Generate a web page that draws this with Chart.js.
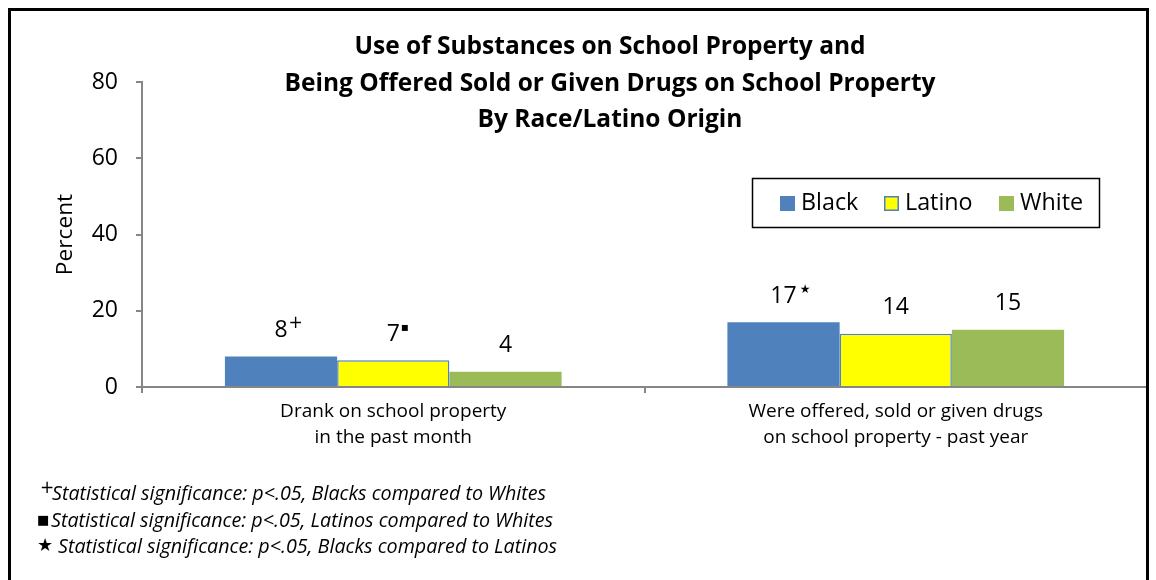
<!DOCTYPE html>
<html>
<head>
<meta charset="utf-8">
<script src="https://cdn.jsdelivr.net/npm/chart.js@4"></script>
<style>
  html, body { margin: 0; padding: 0; background: #ffffff; }
  #wrap { width: 1156px; height: 580px; position: relative; }
</style>
</head>
<body>
<div id="wrap"><canvas id="c" width="1156" height="580"></canvas></div>
<script>
// ---- Data ----
const categories = [
  ["Drank on school property", "in the past month"],
  ["Were offered, sold or given drugs", "on school property - past year"]
];
const seriesNames = ["Black", "Latino", "White"];
const blackValues = [8, 17];
const latinoValues = [7, 14];
const whiteValues = [4, 15];
const blackMarks = ["+", "\u2605"];
const latinoMarks = ["\u25AA", ""];
const whiteMarks = ["", ""];
const yTicks = [0, 20, 40, 60, 80];
const titleLines = [
  "Use of Substances on School Property and",
  "Being Offered Sold or Given Drugs on School Property",
  "By Race/Latino Origin"
];
const footnotes = [
  ["+", "Statistical significance: p<.05, Blacks compared to Whites"],
  ["\u25A0", "Statistical significance: p<.05, Latinos compared to Whites"],
  ["\u2605", "Statistical significance: p<.05, Blacks compared to Latinos"]
];

const FONT = "'Open Sans', Lato, sans-serif";
const SYM = "'DejaVu Sans', sans-serif";
const marksByDataset = [blackMarks, latinoMarks, whiteMarks];

const decorPlugin = {
  id: 'decor',
  afterDraw(chart) {
    const ctx = chart.ctx;
    ctx.save();
    // outer frame
    ctx.strokeStyle = '#000';
    ctx.lineWidth = 3;
    ctx.strokeRect(9.5, 9.5, 1138, 620);

    // title
    ctx.fillStyle = '#000';
    ctx.textAlign = 'center';
    ctx.textBaseline = 'middle';
    ctx.font = "bold 24.5px " + FONT;
    const tY = [47, 84, 120];
    titleLines.forEach((t, i) => ctx.fillText(t, 610, tY[i]));

    // data labels
    chart.data.datasets.forEach((ds, di) => {
      const meta = chart.getDatasetMeta(di);
      meta.data.forEach((el, i) => {
        const txt = String(ds.data[i]);
        ctx.font = "23px " + FONT;
        ctx.textAlign = 'center';
        ctx.textBaseline = 'middle';
        const cy = el.y - 26;
        ctx.fillText(txt, el.x, cy);
        const mk = marksByDataset[di][i];
        if (mk) {
          const w = ctx.measureText(txt).width;
          ctx.textAlign = 'left';
          if (mk === "+") { ctx.font = "17px " + SYM; ctx.fillText(mk, el.x + w / 2 + 1, cy - 7); }
          else if (mk === "\u25AA") { ctx.font = "12px " + SYM; ctx.fillText(mk, el.x + w / 2 + 1, cy - 6); }
          else { ctx.font = "12px " + SYM; ctx.fillText(mk, el.x + w / 2 + 3, cy - 6); }
        }
      });
    });

    // legend
    ctx.lineWidth = 1.5;
    ctx.strokeStyle = '#000';
    ctx.strokeRect(752.5, 178.5, 347, 49);
    const legX = [780, 884, 999];
    chart.data.datasets.forEach((ds, di) => {
      const x = legX[di];
      ctx.fillStyle = ds.backgroundColor;
      ctx.fillRect(x, 196, 15, 15);
      if (ds.borderWidth) {
        ctx.strokeStyle = ds.borderColor;
        ctx.lineWidth = 1.5;
        ctx.strokeRect(x + 0.75, 196.75, 13.5, 13.5);
      }
      ctx.fillStyle = '#000';
      ctx.font = "23.3px " + FONT;
      ctx.textAlign = 'left';
      ctx.textBaseline = 'middle';
      ctx.fillText(ds.label, x + 21, 203);
    });

    // footnotes
    const fy = [494, 521, 547];
    const fx = [[40, 52], [38, 51], [38, 58]];
    footnotes.forEach((f, i) => {
      ctx.fillStyle = '#000';
      ctx.textAlign = 'left';
      ctx.textBaseline = 'middle';
      if (i === 0) { ctx.font = "17px " + SYM; ctx.fillText(f[0], fx[i][0], fy[i] - 5); }
      else if (i === 1) { ctx.font = "13px " + SYM; ctx.fillText(f[0], fx[i][0] - 1, fy[i]); }
      else { ctx.font = "18px " + SYM; ctx.fillText(f[0], fx[i][0] - 1, fy[i] - 1); }
      ctx.font = "italic 19.7px " + FONT;
      ctx.fillText(f[1], fx[i][1], fy[i]);
    });
    ctx.restore();
  }
};

new Chart(document.getElementById('c'), {
  type: 'bar',
  data: {
    labels: categories,
    datasets: [
      { label: seriesNames[0], data: blackValues, backgroundColor: '#4F81BD', borderWidth: 0 },
      { label: seriesNames[1], data: latinoValues, backgroundColor: '#FFFF00', borderColor: '#4F81BD', borderWidth: 1.5 },
      { label: seriesNames[2], data: whiteValues, backgroundColor: '#9BBB59', borderWidth: 0 }
    ]
  },
  options: {
    responsive: false,
    animation: false,
    devicePixelRatio: 1,
    categoryPercentage: 0.67,
    barPercentage: 1.0,
    layout: { padding: { top: 82, right: 9, left: 0, bottom: 0 } },
    plugins: {
      legend: { display: false },
      title: { display: false },
      tooltip: { enabled: false }
    },
    scales: {
      x: {
        grid: { offset: true, drawOnChartArea: false, drawTicks: true, tickLength: 6, color: '#868686', lineWidth: 2 },
        border: { display: true, color: '#868686', width: 2 },
        ticks: { color: '#000', font: { family: FONT, size: 19, lineHeight: 1.37 }, padding: 6, maxRotation: 0, autoSkip: false },
        afterFit(scale) { scale.height = 193; }
      },
      y: {
        min: 0, max: 80,
        afterBuildTicks(scale) { scale.ticks = yTicks.map(v => ({ value: v })); },
        grid: { drawOnChartArea: false, drawTicks: true, tickLength: 6, color: '#868686', lineWidth: 2 },
        border: { display: true, color: '#868686', width: 2 },
        ticks: { color: '#000', font: { family: FONT, size: 23 }, padding: 18 },
        title: { display: true, text: 'Percent', color: '#000', font: { family: FONT, size: 22.7 }, padding: { top: 52, bottom: 0 } },
        afterFit(scale) { scale.width = 142; }
      }
    }
  },
  plugins: [decorPlugin]
});
</script>
</body>
</html>
